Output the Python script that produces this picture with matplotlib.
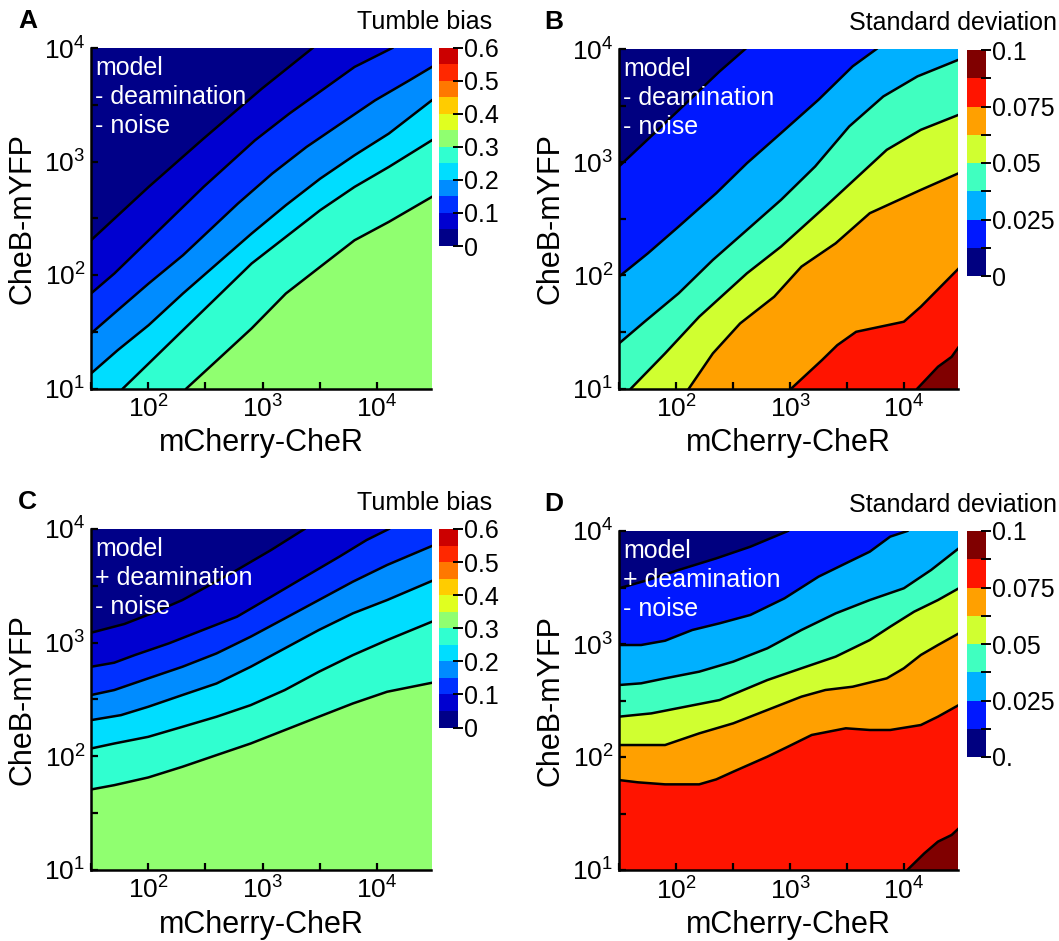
import matplotlib
matplotlib.use("Agg")
import matplotlib.pyplot as plt
import numpy as np
from matplotlib.colors import ListedColormap, BoundaryNorm
from matplotlib.cm import ScalarMappable

plt.rcParams['font.family'] = ['Liberation Sans', 'DejaVu Sans']
plt.rcParams['mathtext.fontset'] = 'custom'
plt.rcParams['mathtext.rm'] = 'Liberation Sans'

W, H = 1059, 941

# colour levels (bottom to top of each colour bar)
tb_colors = ['#000088', '#0000d0', '#0030ff', '#008cff', '#00ddff', '#30ffd0',
             '#90ff70', '#e0ff20', '#ffcc00', '#ff7800', '#ff2800', '#cc0000']
tb_levels = np.linspace(0, 0.6, 13)
tb_ticks = [0, 0.1, 0.2, 0.3, 0.4, 0.5, 0.6]
tb_ticklabels = ['0', '0.1', '0.2', '0.3', '0.4', '0.5', '0.6']

sd_colors = ['#000080', '#0018ff', '#00b0ff', '#40ffc0', '#d0ff30', '#ffa000',
             '#ff1400', '#800000']
sd_levels = np.linspace(0, 0.1, 9)
sd_ticklabels_b = ['0', '', '0.025', '', '0.05', '', '0.075', '', '0.1']
sd_ticklabels_d = ['0.', '', '0.025', '', '0.05', '', '0.075', '', '0.1']

# contour boundaries, log10(mCherry-CheR), log10(CheB-mYFP)
# ordered from the top-left (lowest level) to the bottom-right
lines_a = [
    ([1.5, 2.004, 2.484, 2.994, 3.438],
     [2.306, 2.776, 3.202, 3.642, 4.0]),
    ([1.5, 1.704, 2.004, 2.484, 2.934, 3.234, 3.804, 4.134],
     [1.837, 2.013, 2.306, 2.776, 3.187, 3.422, 3.833, 4.0]),
    ([1.5, 1.734, 2.004, 2.304, 2.784, 3.084, 3.384, 3.684, 3.984, 4.284, 4.48],
     [1.485, 1.690, 1.925, 2.174, 2.629, 2.893, 3.128, 3.334, 3.539, 3.715, 3.833]),
    ([1.5, 1.734, 2.004, 2.304, 2.604, 2.904, 3.204, 3.504, 3.804, 4.104, 4.48],
     [1.132, 1.338, 1.558, 1.837, 2.101, 2.365, 2.615, 2.849, 3.055, 3.246, 3.539]),
    ([1.779, 2.004, 2.304, 2.604, 2.904, 3.204, 3.504, 3.804, 4.104, 4.48],
     [1.0, 1.220, 1.514, 1.807, 2.101, 2.336, 2.571, 2.776, 2.952, 3.187]),
    ([2.334, 2.604, 2.904, 3.204, 3.504, 3.804, 4.104, 4.48],
     [1.0, 1.250, 1.529, 1.837, 2.072, 2.306, 2.468, 2.688]),
]

lines_b = [
    ([1.5, 1.904, 2.382, 2.607],
     [2.962, 3.345, 3.802, 4.0]),
    ([1.5, 1.754, 2.023, 2.353, 2.622, 2.921, 3.250, 3.549, 3.758],
     [1.988, 2.195, 2.431, 2.726, 2.991, 3.257, 3.552, 3.847, 4.0]),
    ([1.5, 1.724, 2.023, 2.323, 2.622, 2.921, 3.220, 3.519, 3.818, 4.117, 4.48],
     [1.398, 1.590, 1.841, 2.136, 2.401, 2.667, 2.962, 3.316, 3.581, 3.758, 3.906]),
    ([1.605, 1.904, 2.203, 2.622, 2.921, 3.310, 3.848, 4.147, 4.48],
     [1.0, 1.310, 1.634, 2.018, 2.254, 2.608, 3.109, 3.286, 3.419]),
    ([2.113, 2.323, 2.562, 2.861, 3.100, 3.400, 3.699, 4.147, 4.48],
     [1.0, 1.310, 1.575, 1.811, 2.077, 2.283, 2.549, 2.755, 2.903]),
    ([3.011, 3.280, 3.414, 3.579, 3.998, 4.147, 4.48],
     [1.0, 1.251, 1.383, 1.501, 1.590, 1.723, 2.062]),
    ([4.117, 4.297, 4.417, 4.48],
     [1.0, 1.192, 1.280, 1.369]),
]

lines_c = [
    ([1.5, 1.792, 2.031, 2.299, 2.538, 2.776, 3.075, 3.367],
     [3.086, 3.163, 3.257, 3.374, 3.506, 3.639, 3.815, 4.0]),
    ([1.5, 1.703, 1.882, 2.180, 2.478, 2.776, 3.075, 3.373, 3.671, 3.910, 4.104],
     [2.786, 2.822, 2.889, 2.992, 3.110, 3.227, 3.403, 3.580, 3.756, 3.903, 4.0]),
    ([1.5, 1.703, 2.001, 2.299, 2.598, 2.896, 3.194, 3.492, 3.790, 4.089, 4.48],
     [2.537, 2.581, 2.684, 2.786, 2.904, 3.051, 3.212, 3.374, 3.536, 3.683, 3.850]),
    ([1.5, 1.762, 2.001, 2.299, 2.598, 2.896, 3.194, 3.492, 3.790, 4.089, 4.48],
     [2.316, 2.360, 2.434, 2.537, 2.639, 2.786, 2.948, 3.110, 3.257, 3.374, 3.542]),
    ([1.5, 1.703, 2.001, 2.299, 2.598, 2.896, 3.194, 3.492, 3.790, 4.089, 4.48],
     [2.066, 2.110, 2.169, 2.257, 2.346, 2.448, 2.581, 2.742, 2.889, 3.021, 3.183]),
    ([1.5, 1.703, 2.001, 2.299, 2.598, 2.896, 3.194, 3.492, 3.790, 4.089, 4.48],
     [1.705, 1.743, 1.811, 1.905, 2.008, 2.110, 2.228, 2.346, 2.463, 2.566, 2.645]),
]

lines_d = [
    ([1.5, 1.754, 2.023, 2.353, 2.652, 2.981],
     [3.493, 3.566, 3.655, 3.758, 3.861, 4.0]),
    ([1.5, 1.694, 1.904, 2.143, 2.382, 2.652, 2.951, 3.250, 3.489, 3.699, 3.878, 4.028],
     [2.991, 2.991, 3.029, 3.124, 3.183, 3.257, 3.404, 3.596, 3.714, 3.817, 3.950, 4.0]),
    ([1.5, 1.694, 1.904, 2.203, 2.502, 2.801, 3.100, 3.400, 3.699, 3.998, 4.237, 4.48],
     [2.637, 2.652, 2.696, 2.755, 2.844, 2.962, 3.124, 3.271, 3.389, 3.493, 3.655, 3.847]),
    ([1.5, 1.784, 2.083, 2.382, 2.592, 2.801, 3.100, 3.400, 3.699, 3.878, 4.088, 4.297, 4.48],
     [2.357, 2.386, 2.445, 2.504, 2.593, 2.681, 2.785, 2.888, 3.035, 3.153, 3.286, 3.389, 3.493]),
    ([1.5, 1.904, 2.203, 2.502, 2.801, 3.100, 3.310, 3.549, 3.848, 3.998, 4.147, 4.297, 4.48],
     [2.106, 2.106, 2.209, 2.298, 2.416, 2.534, 2.593, 2.622, 2.696, 2.785, 2.903, 2.991, 3.094]),
    ([1.5, 1.665, 1.904, 2.203, 2.353, 2.502, 2.801, 2.981, 3.190, 3.489, 3.699, 3.878, 4.147, 4.297, 4.48],
     [1.796, 1.776, 1.758, 1.758, 1.802, 1.870, 2.003, 2.091, 2.195, 2.254, 2.239, 2.239, 2.283, 2.357, 2.460]),
    ([4.028, 4.177, 4.297, 4.417, 4.48],
     [1.0, 1.147, 1.251, 1.310, 1.369]),
]

xticks = [10**1.5, 1e2, 10**2.5, 1e3, 10**3.5, 1e4]
xticklabels = ['', r'$\mathregular{10^{2}}$', '', r'$\mathregular{10^{3}}$', '', r'$\mathregular{10^{4}}$']
yticks = [1e1, 10**1.5, 1e2, 10**2.5, 1e3, 10**3.5, 1e4]
yticklabels = [r'$\mathregular{10^{1}}$', '', r'$\mathregular{10^{2}}$', '',
               r'$\mathregular{10^{3}}$', '', r'$\mathregular{10^{4}}$']


def rect(left, top, right, bottom):
    return [left / W, 1 - bottom / H, (right - left) / W, (bottom - top) / H]


def draw_panel(ax, lines, colors):
    ax.set_xscale('log')
    ax.set_yscale('log')
    ax.set_facecolor(colors[0])
    for i, (lx, ly) in enumerate(lines):
        xs = 10 ** np.array(lx)
        ys = 10 ** np.array(ly)
        # everything below/right of the boundary gets the next level colour
        px = np.concatenate([xs, [1e7, 1e7, 1e-1]])
        py = np.concatenate([ys, [1e7, 1e-1, 1e-1]])
        ax.fill(px, py, color=colors[i + 1], lw=0, zorder=1)
        ax.plot(xs, ys, color='black', lw=1.8, zorder=2)
    ax.set_xlim(10**1.5, 3e4)
    ax.set_ylim(10, 1e4)
    ax.set_xticks(xticks)
    ax.set_xticklabels(xticklabels)
    ax.set_yticks(yticks)
    ax.set_yticklabels(yticklabels)
    ax.minorticks_off()
    ax.tick_params(direction='in', length=5, width=1.6, labelsize=19)
    ax.tick_params(axis='x', pad=5)
    ax.tick_params(axis='y', pad=4)
    for s in ['top', 'right']:
        ax.spines[s].set_visible(False)
    for s in ['left', 'bottom']:
        ax.spines[s].set_linewidth(1.8)
        ax.spines[s].set_zorder(3)


def draw_cbar(cax, colors, levels, ticks, labels):
    cmap = ListedColormap(colors)
    norm = BoundaryNorm(levels, cmap.N)
    cb = fig.colorbar(ScalarMappable(norm=norm, cmap=cmap), cax=cax)
    cb.outline.set_visible(False)
    cb.set_ticks(ticks)
    cb.set_ticklabels(labels)
    cax.tick_params(direction='inout', length=7, width=1.4, labelsize=18, pad=1)
    cax.minorticks_off()


fig = plt.figure(figsize=(W / 100, H / 100), dpi=100)

panels = [
    ('A', (91, 48, 431.5, 388.5), (439, 47.5, 458, 246), lines_a, tb_colors, tb_levels,
     tb_ticks, tb_ticklabels, 'Tumble bias', 492, '-'),
    ('B', (619, 49, 958.5, 388.5), (967, 50, 986, 276), lines_b, sd_colors, sd_levels,
     sd_levels, sd_ticklabels_b, 'Standard deviation', 1057, '-'),
    ('C', (91, 529, 431.5, 869.5), (439, 529, 458, 727.5), lines_c, tb_colors, tb_levels,
     tb_ticks, tb_ticklabels, 'Tumble bias', 492, '+'),
    ('D', (619, 531, 958.5, 870), (967, 531, 986, 757), lines_d, sd_colors, sd_levels,
     sd_levels, sd_ticklabels_d, 'Standard deviation', 1057, '+'),
]

for letter, box, cbox, lines, colors, levels, ticks, labels, title, title_x, sign in panels:
    left, top, right, bottom = box
    ax = fig.add_axes(rect(*box))
    draw_panel(ax, lines, colors)
    cax = fig.add_axes(rect(*cbox))
    draw_cbar(cax, colors, levels, ticks, labels)

    letter_x = left - 73 if letter in ('A', 'C') else left - 75
    fig.text(letter_x / W, 1 - (top - 27) / H, letter, fontsize=19,
             fontweight='bold', ha='left', va='center')
    fig.text(title_x / W, 1 - (top - 26) / H, title, fontsize=18,
             ha='right', va='center')
    ylab_x = 22.5 if letter in ('A', 'C') else left - 68.5
    fig.text(ylab_x / W, 1 - (top + bottom) / 2 / H, 'CheB-mYFP', fontsize=22,
             rotation=90, ha='center', va='center')
    fig.text((left + right) / 2 / W, 1 - (bottom + 55) / H, 'mCherry-CheR',
             fontsize=22, ha='center', va='center')
    for k, txt in enumerate(['model', sign + ' deamination', '- noise']):
        ax.text(0.013, 1 - (20 + 29 * k) / 340, txt, transform=ax.transAxes,
                color='white', fontsize=18, ha='left', va='center', zorder=5)

fig.savefig('out.png', dpi=100)
